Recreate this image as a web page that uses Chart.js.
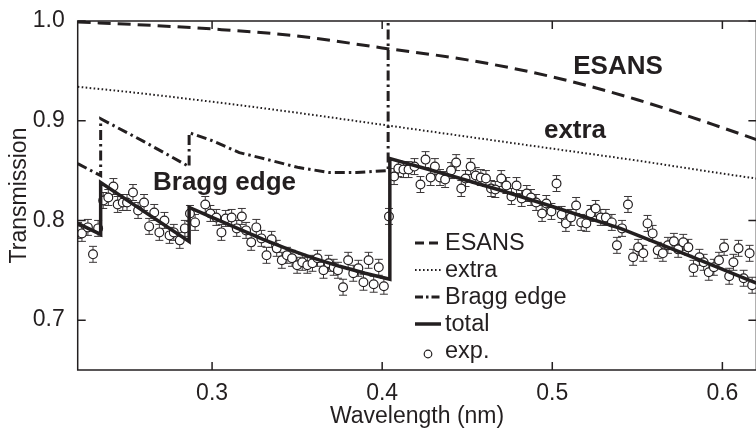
<!DOCTYPE html>
<html>
<head>
<meta charset="utf-8">
<title>Transmission vs wavelength</title>
<script src="https://cdn.jsdelivr.net/npm/chart.js@4.4.1/dist/chart.umd.min.js"></script>
<style>
  html, body { margin: 0; padding: 0; background: #fff; overflow: hidden; }
  canvas { display: block; }
</style>
</head>
<body>
<canvas id="transChart" width="762" height="430"></canvas>
<script>
// axis ticks
const xTicks = [0.3, 0.4, 0.5, 0.6];
const yTicks = [0.7, 0.8, 0.9, 1.0];

// model curves (wavelength in nm, transmission)
const esansX = [0.221, 0.26, 0.30, 0.35, 0.40, 0.45, 0.50, 0.55, 0.60, 0.62];
const esansY = [0.999, 0.996, 0.992, 0.985, 0.973, 0.961, 0.944, 0.921, 0.893, 0.881];

const extraX = [0.221, 0.25, 0.30, 0.35, 0.40, 0.45, 0.50, 0.55, 0.60, 0.62];
const extraY = [0.934, 0.929, 0.919, 0.908, 0.896, 0.884, 0.872, 0.860, 0.847, 0.842];

const braggX = [0.221, 0.2345, 0.2345, 0.26, 0.2865, 0.2865, 0.30, 0.316, 0.328, 0.351, 0.369, 0.385, 0.4035, 0.4035, 0.62];
const braggY = [0.857, 0.845, 0.902, 0.879, 0.854, 0.888, 0.880, 0.868, 0.863, 0.853, 0.848, 0.848, 0.850, 1.05, 1.05];

const totalX = [0.221, 0.2345, 0.2345, 0.2865, 0.2865, 0.30, 0.315, 0.33, 0.345, 0.36, 0.375, 0.39, 0.4045, 0.4045, 0.44, 0.47, 0.50, 0.54, 0.58, 0.62];
const totalY = [0.797, 0.786, 0.838, 0.779, 0.813, 0.803, 0.792, 0.781, 0.771, 0.762, 0.754, 0.747, 0.741, 0.862, 0.845, 0.830, 0.814, 0.792, 0.765, 0.737];

// measured points
const expWavelength = [
  0.2212, 0.2235, 0.2270, 0.2300, 0.2330, 0.2360, 0.2390, 0.2420, 0.2445, 0.2475,
  0.2500, 0.2535, 0.2565, 0.2600, 0.2630, 0.2660, 0.2690, 0.2720, 0.2750, 0.2775,
  0.2810, 0.2840, 0.2870, 0.2900, 0.2960, 0.2990, 0.3025, 0.3055, 0.3080, 0.3115,
  0.3145, 0.3175, 0.3200, 0.3230, 0.3260, 0.3290, 0.3320, 0.3350, 0.3380, 0.3410,
  0.3440, 0.3470, 0.3500, 0.3530, 0.3560, 0.3590, 0.3620, 0.3655, 0.3685, 0.3715,
  0.3740, 0.3770, 0.3800, 0.3830, 0.3860, 0.3890, 0.3920, 0.3950, 0.3980, 0.4010,
  0.4040, 0.4070, 0.4095, 0.4125, 0.4155, 0.4190, 0.4225, 0.4255, 0.4285, 0.4310,
  0.4340, 0.4370, 0.4405, 0.4435, 0.4465, 0.4490, 0.4520, 0.4550, 0.4580, 0.4610,
  0.4640, 0.4665, 0.4700, 0.4730, 0.4760, 0.4790, 0.4820, 0.4850, 0.4875, 0.4905,
  0.4940, 0.4965, 0.4995, 0.5025, 0.5055, 0.5080, 0.5110, 0.5140, 0.5170, 0.5200,
  0.5225, 0.5255, 0.5285, 0.5315, 0.5350, 0.5380, 0.5410, 0.5445, 0.5475, 0.5505,
  0.5535, 0.5560, 0.5590, 0.5620, 0.5650, 0.5680, 0.5715, 0.5740, 0.5770, 0.5800,
  0.5830, 0.5865, 0.5890, 0.5920, 0.5950, 0.5980, 0.6010, 0.6040, 0.6065, 0.6095,
  0.6125, 0.6160, 0.6175
];
const expTransmission = [
  0.790, 0.787, 0.793, 0.766, 0.792, 0.820, 0.823, 0.834, 0.816, 0.818,
  0.818, 0.828, 0.810, 0.818, 0.794, 0.808, 0.788, 0.800, 0.785, 0.788,
  0.780, 0.792, 0.807, 0.798, 0.816, 0.807, 0.803, 0.788, 0.802, 0.803,
  0.792, 0.804, 0.790, 0.778, 0.793, 0.782, 0.765, 0.781, 0.772, 0.760,
  0.765, 0.762, 0.755, 0.758, 0.755, 0.757, 0.762, 0.750, 0.757, 0.753,
  0.750, 0.733, 0.760, 0.747, 0.752, 0.738, 0.760, 0.736, 0.753, 0.734,
  0.804, 0.844, 0.852, 0.851, 0.851, 0.854, 0.836, 0.861, 0.843, 0.854,
  0.843, 0.841, 0.850, 0.858, 0.832, 0.842, 0.854, 0.845, 0.843, 0.842,
  0.832, 0.831, 0.842, 0.835, 0.824, 0.835, 0.822, 0.827, 0.823, 0.818,
  0.807, 0.817, 0.809, 0.837, 0.806, 0.797, 0.803, 0.815, 0.798, 0.797,
  0.807, 0.812, 0.803, 0.803, 0.798, 0.775, 0.792, 0.816, 0.763, 0.773,
  0.767, 0.797, 0.787, 0.770, 0.767, 0.775, 0.779, 0.771, 0.778, 0.773,
  0.752, 0.763, 0.758, 0.748, 0.753, 0.760, 0.773, 0.744, 0.758, 0.772,
  0.742, 0.767, 0.735
];
const expError = 0.008;

const ink = '#231f20';
const fontFamily = 'Arial, "Liberation Sans", Helvetica, sans-serif';
Chart.defaults.font.family = fontFamily;

const toPoints = (xs, ys) => xs.map((x, i) => ({ x: x, y: ys[i] }));

const legendItems = [
  { label: 'ESANS', dash: [9, 5], width: 3 },
  { label: 'extra', dash: [1.6, 2.4], width: 2 },
  { label: 'Bragg edge', dash: [8, 3, 2.5, 3], width: 3 },
  { label: 'total', dash: [], width: 3.5 },
  { label: 'exp.', marker: true }
];

const annotations = [
  { text: 'ESANS', x: 618, y: 74, align: 'center' },
  { text: 'extra', x: 575, y: 138, align: 'center' },
  { text: 'Bragg edge', x: 153, y: 190, align: 'left' }
];

// error bars under the circles
const errorBarPlugin = {
  id: 'errorBars',
  beforeDatasetDraw(chart, args) {
    if (args.index !== 4) return;
    const ctx = chart.ctx;
    const area = chart.chartArea;
    const yScale = chart.scales.y;
    const meta = chart.getDatasetMeta(4);
    ctx.save();
    ctx.beginPath();
    ctx.rect(area.left, area.top, area.right - area.left, area.bottom - area.top);
    ctx.clip();
    ctx.strokeStyle = '#3a3637';
    ctx.lineWidth = 1;
    meta.data.forEach((pt, i) => {
      const v = expTransmission[i];
      const top = yScale.getPixelForValue(v + expError);
      const bot = yScale.getPixelForValue(v - expError);
      ctx.beginPath();
      ctx.moveTo(pt.x, top);
      ctx.lineTo(pt.x, bot);
      ctx.moveTo(pt.x - 4, top);
      ctx.lineTo(pt.x + 4, top);
      ctx.moveTo(pt.x - 4, bot);
      ctx.lineTo(pt.x + 4, bot);
      ctx.stroke();
    });
    ctx.restore();
  }
};

// box frame with inward ticks, labels inside the plot, legend
const framePlugin = {
  id: 'frame',
  afterDatasetsDraw(chart) {
    const ctx = chart.ctx;
    const a = chart.chartArea;
    const xs = chart.scales.x;
    const ys = chart.scales.y;
    const len = 8;
    ctx.save();
    ctx.strokeStyle = ink;
    ctx.lineWidth = 1.5;
    ctx.setLineDash([]);
    ctx.beginPath();
    ctx.rect(a.left, a.top, a.right - a.left, a.bottom - a.top);
    ctx.stroke();
    ctx.beginPath();
    xTicks.forEach(v => {
      const px = xs.getPixelForValue(v);
      ctx.moveTo(px, a.bottom); ctx.lineTo(px, a.bottom - len);
      ctx.moveTo(px, a.top); ctx.lineTo(px, a.top + len);
    });
    yTicks.forEach(v => {
      const py = ys.getPixelForValue(v);
      ctx.moveTo(a.left, py); ctx.lineTo(a.left + len, py);
      ctx.moveTo(a.right, py); ctx.lineTo(a.right - len, py);
    });
    ctx.stroke();

    // curve labels
    ctx.fillStyle = ink;
    ctx.font = 'bold 26px ' + fontFamily;
    ctx.textBaseline = 'alphabetic';
    annotations.forEach(t => {
      ctx.textAlign = t.align;
      ctx.fillText(t.text, t.x, t.y);
    });

    // legend
    ctx.font = '23.5px ' + fontFamily;
    ctx.textAlign = 'left';
    ctx.textBaseline = 'middle';
    legendItems.forEach((item, i) => {
      const y = 243 + i * 27;
      if (item.marker) {
        ctx.beginPath();
        ctx.setLineDash([]);
        ctx.lineWidth = 1.2;
        ctx.fillStyle = '#fff';
        ctx.arc(428, y + 3, 3.8, 0, Math.PI * 2);
        ctx.fill();
        ctx.stroke();
      } else {
        ctx.beginPath();
        ctx.setLineDash(item.dash);
        ctx.lineWidth = item.width;
        ctx.moveTo(415, y);
        ctx.lineTo(441, y);
        ctx.stroke();
      }
      ctx.setLineDash([]);
      ctx.fillStyle = ink;
      ctx.fillText(item.label, 445, y + 1);
    });
    ctx.restore();
  }
};

new Chart(document.getElementById('transChart'), {
  type: 'line',
  data: {
    datasets: [
      {
        label: 'ESANS',
        data: toPoints(esansX, esansY),
        borderColor: ink, borderWidth: 3, borderDash: [13, 7],
        pointRadius: 0, cubicInterpolationMode: 'monotone', fill: false
      },
      {
        label: 'extra',
        data: toPoints(extraX, extraY),
        borderColor: ink, borderWidth: 2, borderDash: [1.6, 2.4],
        pointRadius: 0, cubicInterpolationMode: 'monotone', fill: false
      },
      {
        label: 'Bragg edge',
        data: toPoints(braggX, braggY),
        borderColor: ink, borderWidth: 3, borderDash: [10, 4, 2.5, 4],
        pointRadius: 0, tension: 0, fill: false
      },
      {
        label: 'total',
        data: toPoints(totalX, totalY),
        borderColor: ink, borderWidth: 3.5, borderJoinStyle: 'miter',
        pointRadius: 0, tension: 0, fill: false
      },
      {
        label: 'exp.',
        data: toPoints(expWavelength, expTransmission),
        showLine: false,
        pointRadius: 4.4, pointStyle: 'circle',
        pointBackgroundColor: '#fff', pointBorderColor: ink, pointBorderWidth: 1.2
      }
    ]
  },
  options: {
    responsive: false,
    animation: false,
    events: [],
    layout: { padding: { top: 21, right: 3, left: 0, bottom: 0 } },
    plugins: { legend: { display: false }, tooltip: { enabled: false } },
    scales: {
      x: {
        type: 'linear', min: 0.221, max: 0.62,
        grid: { display: false }, border: { display: false },
        afterBuildTicks: s => { s.ticks = xTicks.map(v => ({ value: v })); },
        afterFit: s => { s.height = 60; },
        ticks: { color: ink, font: { size: 23, lineHeight: 1.2 }, padding: 2, maxRotation: 0, callback: v => v.toFixed(1) },
        title: { display: true, text: 'Wavelength (nm)', color: ink, font: { size: 23, lineHeight: 1.2 }, padding: { top: 0, bottom: 0 } }
      },
      y: {
        type: 'linear', min: 0.65, max: 1.0,
        grid: { display: false }, border: { display: false },
        afterBuildTicks: s => { s.ticks = yTicks.map(v => ({ value: v })); },
        afterFit: s => { s.width = 77.7; },
        ticks: { color: ink, font: { size: 23, lineHeight: 1.2 }, padding: 5, callback: v => v.toFixed(1) },
        title: { display: true, text: 'Transmission', color: ink, font: { size: 23, lineHeight: 1.2 }, padding: { top: 6, bottom: 0 } }
      }
    }
  },
  plugins: [errorBarPlugin, framePlugin]
});
</script>
</body>
</html>
